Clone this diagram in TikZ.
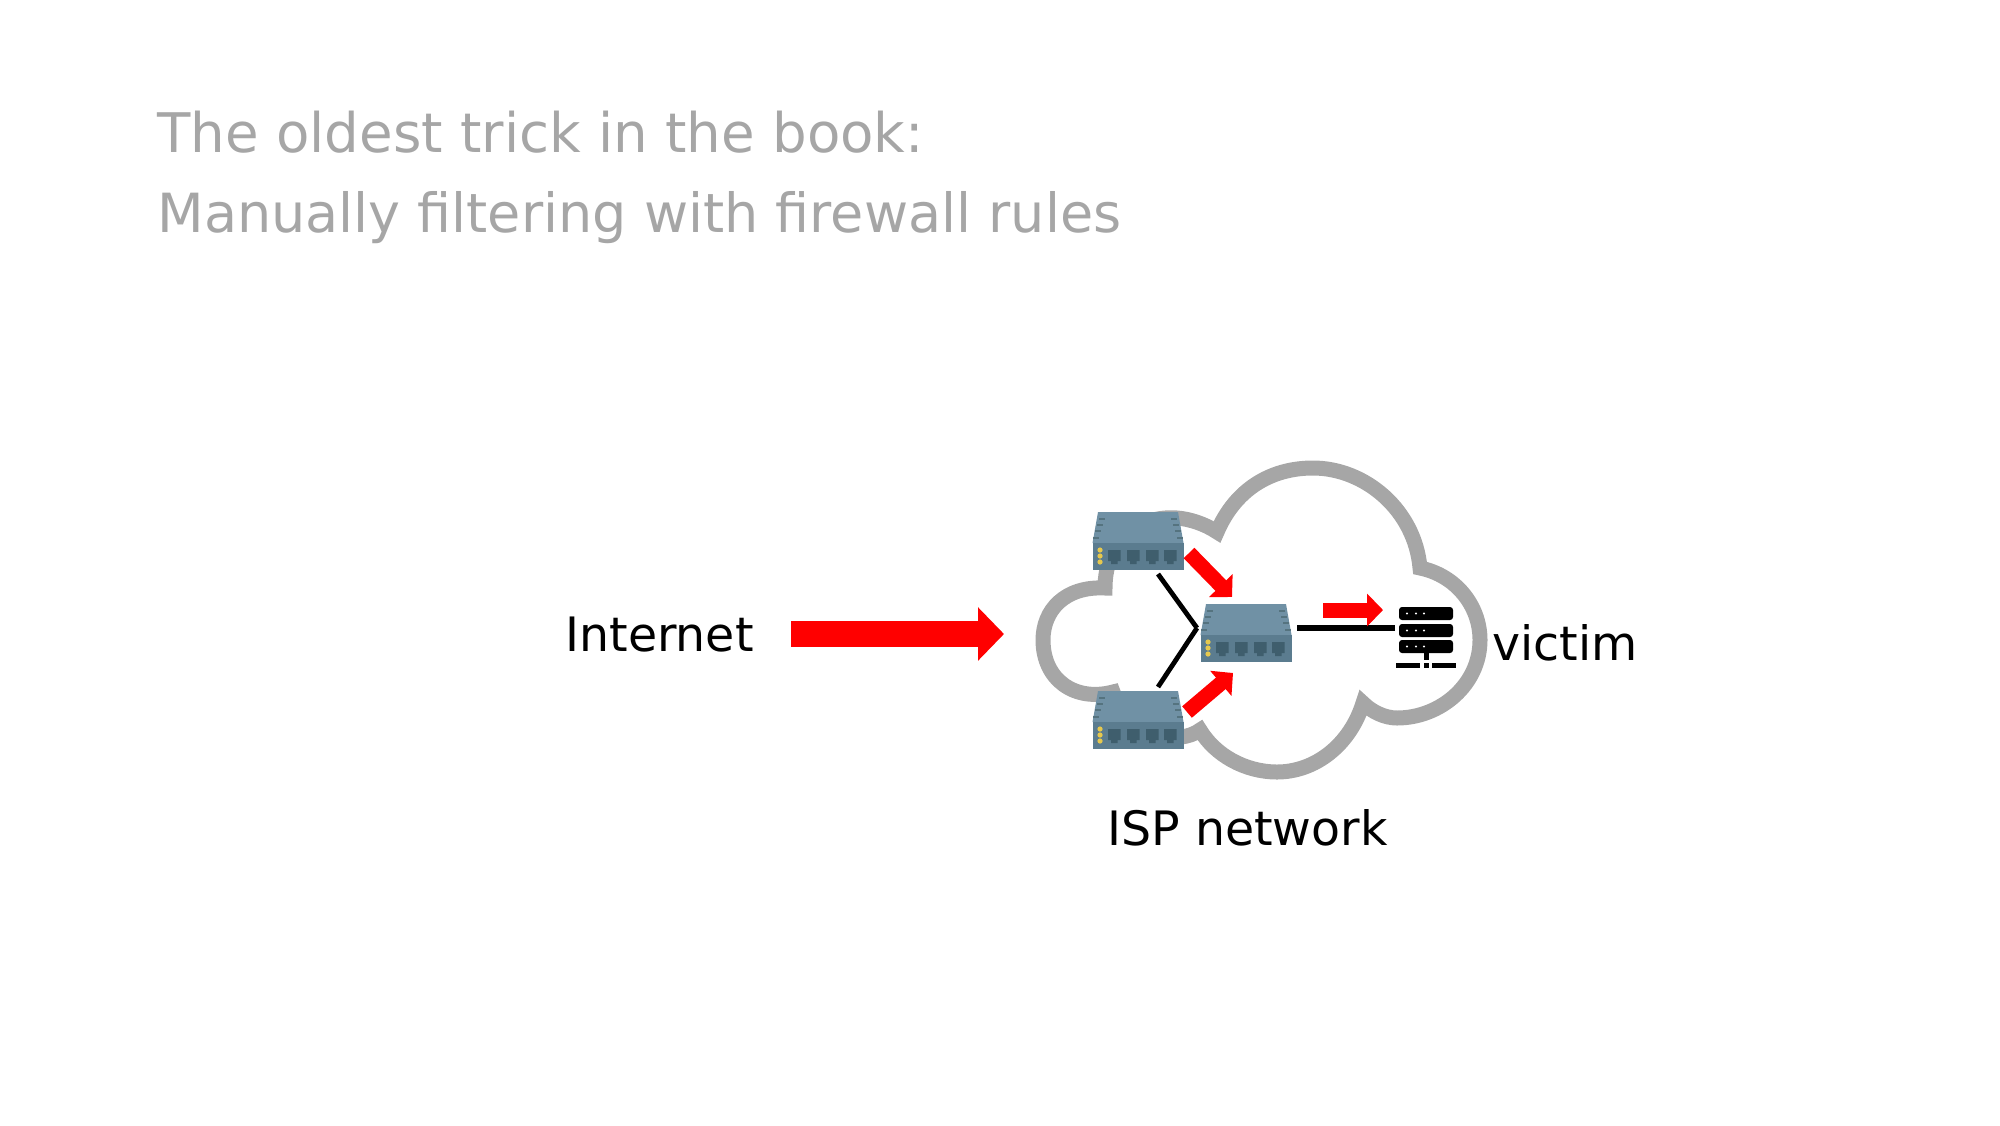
\documentclass[tikz,border=0pt]{standalone}
\usepackage{fontspec}
\setmainfont{DejaVu Sans}
\usetikzlibrary{calc,arrows.meta,positioning}
\definecolor{titlegray}{HTML}{A6A6A6}
\definecolor{swtopcol}{HTML}{7091A5}
\definecolor{swfrontcol}{HTML}{5B7C8F}
\definecolor{swportcol}{HTML}{3F5E6D}
\definecolor{swmarkcol}{HTML}{55737F}
\definecolor{swledcol}{HTML}{E6C84E}
\tikzset{
 titletext/.style={anchor=base west, inner sep=0pt, text=titlegray, font=\fontsize{27}{32}\selectfont},
 labeltext/.style={anchor=base west, inner sep=0pt, font=\fontsize{23.7}{28}\selectfont},
 switchnode/.style={minimum width=45.5pt, minimum height=29pt, inner sep=0pt},
 blackline/.style={line width=2.4pt, black},
 redarrow/.style={draw=red, line width=7.5pt, -{Triangle[length=8pt, width=16pt, fill=red]}},
 switchicon/.pic={
  \fill[swtopcol] (-40,-29) -- (40,-29) -- (45.5,2) -- (-45.5,2) -- cycle;
  \fill[swfrontcol] (-45.5,2) rectangle (45.5,29);
  \foreach \mx/\my in {36/-22,38/-16,40/-10,42/-3} {
   \fill[swmarkcol] (-\mx-3,\my-1) rectangle (-\mx+3,\my+1);
   \fill[swmarkcol] (\mx-3,\my-1) rectangle (\mx+3,\my+1);
  }
  \foreach \px in {-30,-11,8,26} {
   \fill[swportcol] (\px,9) -- (\px+12.5,9) -- (\px+12.5,20) -- (\px+9.5,20) -- (\px+9.5,23) -- (\px+3,23) -- (\px+3,20) -- (\px,20) -- cycle;
  }
  \foreach \ly in {9,15,21} \fill[swledcol] (-38,\ly) circle (1.3pt);
 }
}

\begin{document}
\begin{tikzpicture}[x=0.5pt, y=-0.5pt]
 \useasboundingbox (0,0) rectangle (2000,1125);

 % Title
 \node[titletext, font=\fontsize{27.3}{32}\selectfont] (titleone) at (157,152) {The oldest trick in the book:};
 \node[titletext] (titletwo) at (157,232) {Manually filtering with firewall rules};

 % Cloud
 \draw[titlegray, line width=7.5pt, line join=miter, miter limit=2] (1217,532)
  .. controls (1235,490) and (1270,468) .. (1313,468)
  .. controls (1365,468) and (1415,510) .. (1420,568)
  .. controls (1455,575) and (1480,605) .. (1480,640)
  .. controls (1480,685) and (1440,718) .. (1397,718)
  .. controls (1385,718) and (1372,712) .. (1363,703)
  .. controls (1350,745) and (1315,772) .. (1277,772)
  .. controls (1245,772) and (1215,755) .. (1200,730)
  .. controls (1180,745) and (1130,740) .. (1113,692)
  .. controls (1075,702) and (1043,680) .. (1043,640)
  .. controls (1043,610) and (1065,586) .. (1105,588)
  .. controls (1105,540) and (1140,515) .. (1177,518)
  .. controls (1190,519) and (1205,524) .. (1217,532) -- cycle;

 % Switches
 \foreach \nm/\sx/\sy in {swtop/1138/541, swbot/1138/720, swmid/1246/633} {
  \node[switchnode] (\nm) at (\sx,\sy) {};
  \pic at (\nm) {switchicon};
 }

 % Victim server
 \node[minimum width=26.7pt, minimum height=23pt, inner sep=0pt] (server) at (1426,630) {};
 \foreach \ry in {613.5,630.5,646.5} {
  \fill[black, rounded corners=1.5pt] (1399,\ry-6.5) rectangle (1453,\ry+6.5);
  \foreach \rx in {1407,1416,1424} \fill[white] (\rx,\ry) circle (0.6pt);
 }
 \fill[black] (1424,653) rectangle (1428.5,660);
 \fill[black] (1396,663) rectangle (1420,667.5);
 \fill[black] (1424,663) rectangle (1428.5,667.5);
 \fill[black] (1432,663) rectangle (1456,667.5);

 % Links
 \coordinate (joint) at (1197,628);
 \coordinate (topend) at (1158,574);
 \coordinate (botend) at (1158,687);
 \coordinate (midend) at (1297,628);
 \coordinate (srvend) at (1395,628);
 \draw[blackline] (topend) -- (joint);
 \draw[blackline] (botend) -- (joint);
 \draw[black, line width=3pt] (midend) -- (srvend);

 % Labels
 \node[labeltext] (internet) at (565,651) {Internet};
 \node[labeltext] (isp) at (1107,845) {ISP network};
 \node[labeltext] (victim) at (1492,660) {victim};

 % Traffic
 \coordinate (inA) at (791,634);
 \coordinate (inB) at (1004,634);
 \coordinate (topA) at (1189,553);
 \coordinate (topB) at (1232,597);
 \coordinate (botA) at (1187,712);
 \coordinate (botB) at (1233,673);
 \coordinate (srvA) at (1323,610);
 \coordinate (srvB) at (1383,610);
 \draw[draw=red, line width=13pt, -{Triangle[length=13pt, width=26pt, fill=red]}] (inA) -- (inB);
 \foreach \ra/\rb in {topA/topB, botA/botB, srvA/srvB} \draw[redarrow] (\ra) -- (\rb);
\end{tikzpicture}
\end{document}
